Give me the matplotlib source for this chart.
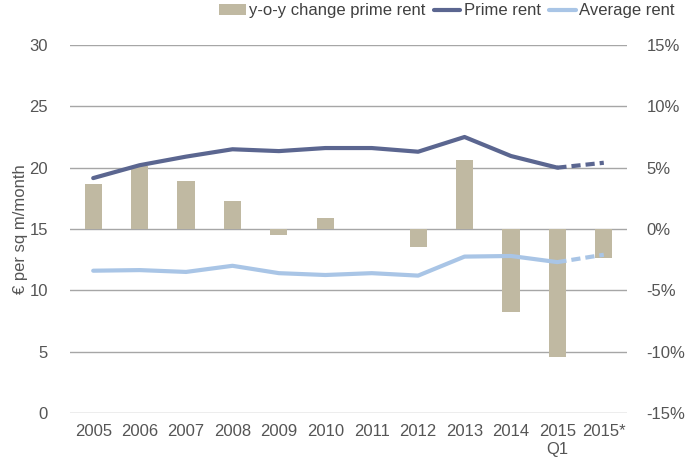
"""Prime vs average office rent with y-o-y change of prime rent."""

import matplotlib.pyplot as plt
import numpy as np

plt.rcParams["font.family"] = ["Liberation Sans", "DejaVu Sans"]

YEARS = ["2005", "2006", "2007", "2008", "2009", "2010", "2011", "2012",
         "2013", "2014", "2015\nQ1", "2015*"]
PRIME_RENT = [19.15, 20.2, 20.9, 21.5, 21.35, 21.6, 21.6, 21.3, 22.5, 20.95, 20.0, 20.4]
AVERAGE_RENT = [11.6, 11.65, 11.5, 12.0, 11.4, 11.25, 11.4, 11.2, 12.75, 12.8, 12.3, 12.9]
YOY_CHANGE = [3.7, 5.1, 3.9, 2.3, -0.5, 0.9, 0.0, -1.45, 5.6, -6.8, -10.4, -2.4]

PRIME_COLOR = "#5b6690"
AVERAGE_COLOR = "#a9c5e6"
BAR_COLOR = "#c0b9a2"
TEXT_COLOR = "#555555"
GRID_COLOR = "#a6a6a6"

fig = plt.figure(figsize=(6.93, 4.63), dpi=100)
ax_bar = fig.add_axes([70 / 693, 50 / 463, 557 / 693, 368 / 463])
ax = ax_bar.twinx()
ax.set_zorder(ax_bar.get_zorder() + 1)
ax.patch.set_visible(False)

x = np.arange(len(YEARS))

# bars on the right (percent) axis
ax_bar.bar(x, YOY_CHANGE, width=0.37, color=BAR_COLOR, linewidth=0,
           label="y-o-y change prime rent", zorder=2)
ax_bar.set_ylim(-15, 15)
ax_bar.set_yticks(np.arange(-15, 16, 5))
ax_bar.set_yticklabels([f"{v}%" for v in range(-15, 16, 5)])
ax_bar.yaxis.tick_right()
ax_bar.grid(axis="y", color=GRID_COLOR, linewidth=1.0, zorder=0)
ax_bar.set_axisbelow(True)

# lines on the left (EUR) axis; last segment is a forecast, dashed
solid = slice(0, len(YEARS) - 1)
dash = slice(len(YEARS) - 2, len(YEARS))
ax.plot(x[solid], PRIME_RENT[solid], color=PRIME_COLOR, linewidth=3,
        solid_capstyle="round", label="Prime rent")
ax.plot(x[dash], PRIME_RENT[dash], color=PRIME_COLOR, linewidth=3,
        linestyle=(0, (2.2, 1.2)))
ax.plot(x[solid], AVERAGE_RENT[solid], color=AVERAGE_COLOR, linewidth=3,
        solid_capstyle="round", label="Average rent")
ax.plot(x[dash], AVERAGE_RENT[dash], color=AVERAGE_COLOR, linewidth=3,
        linestyle=(0, (2.2, 1.2)))
ax.set_ylim(0, 30)
ax.set_yticks(np.arange(0, 31, 5))
ax.yaxis.tick_left()
ax.yaxis.set_label_position("left")
ax.set_ylabel("€ per sq m/month", fontsize=12, color=TEXT_COLOR, labelpad=1)

ax_bar.set_xlim(-0.5, len(YEARS) - 0.5)
ax_bar.set_xticks(x)
ax_bar.set_xticklabels(YEARS)

for a in (ax, ax_bar):
    for spine in a.spines.values():
        spine.set_visible(False)
    a.tick_params(length=0, labelsize=12, colors=TEXT_COLOR)
ax_bar.tick_params(axis="y", pad=14)
ax.tick_params(axis="y", pad=16)
ax_bar.tick_params(axis="x", pad=8)

handles = ax_bar.get_legend_handles_labels()[0] + ax.get_legend_handles_labels()[0]
labels = ["y-o-y change prime rent", "Prime rent", "Average rent"]
fig.legend(handles, labels, loc="upper right", bbox_to_anchor=(0.995, 1.025), ncol=3,
           frameon=False, fontsize=12, labelcolor="#404040", handlelength=1.6,
           handletextpad=0.2, columnspacing=0.5)

fig.savefig("out.png", dpi=100)
